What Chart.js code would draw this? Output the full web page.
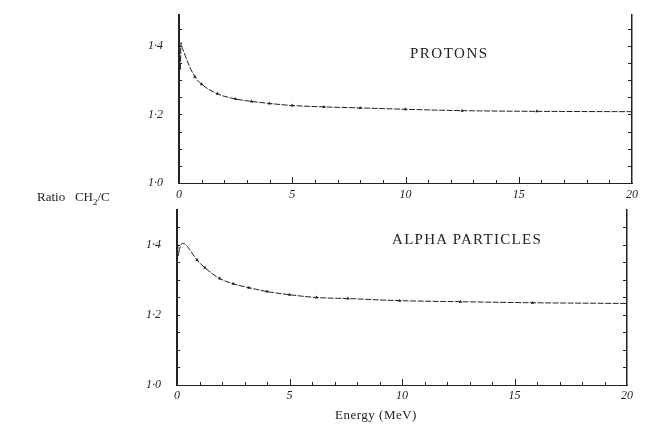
<!DOCTYPE html>
<html>
<head>
<meta charset="utf-8">
<script src="https://cdn.jsdelivr.net/npm/chart.js@4/dist/chart.umd.min.js"></script>
<style>
  body { margin: 0; background: #fff; }
  #wrap { position: relative; width: 648px; height: 440px; font-family: "Liberation Serif", serif; color: #222; }
  canvas { position: absolute; left: 0; }
  .lbl { position: absolute; white-space: nowrap; }
</style>
</head>
<body>
<div id="wrap">
  <canvas id="canva1" width="648" height="215" style="top:0"></canvas>
  <canvas id="canva2" width="648" height="240" style="top:200px"></canvas>
  <div class="lbl" style="left:410px;top:45px;font-size:15px;letter-spacing:1.5px">PROTONS</div>
  <div class="lbl" style="left:392px;top:231px;font-size:15px;letter-spacing:1.3px">ALPHA PARTICLES</div>
  <div class="lbl" style="left:37px;top:189px;font-size:13px">Ratio&nbsp;&nbsp;&nbsp;CH<sub style="font-size:9px">2</sub>/C</div>
  <div class="lbl" style="left:335px;top:407px;font-size:13px;letter-spacing:0.5px">Energy (MeV)</div>
</div>
<script>
// energy in MeV, ratio CH2/C
let protonEnergy = [0, 0.03, 0.06, 0.09, 0.12, 0.2, 0.4, 0.7, 1.0, 1.7, 2.5, 3.2, 4.0, 5.0, 6.4, 8.0, 10, 12.5, 15.8, 20];
let protonRatio  = [1.32, 1.40, 1.33, 1.41, 1.40, 1.385, 1.35, 1.31, 1.288, 1.26, 1.245, 1.238, 1.232, 1.226, 1.222, 1.219, 1.215, 1.211, 1.209, 1.208];

let alphaEnergy = [0, 0.02, 0.06, 0.12, 0.25, 0.4, 0.89, 1.24, 1.9, 2.5, 3.2, 4.0, 5.0, 6.2, 7.6, 9.9, 12.6, 15.8, 20];
let alphaRatio  = [1.33, 1.41, 1.37, 1.39, 1.405, 1.40, 1.357, 1.335, 1.304, 1.289, 1.278, 1.267, 1.258, 1.25, 1.247, 1.241, 1.238, 1.235, 1.233];

let energyTicks = [0, 5, 10, 15, 20];
let ratioTicks = [1.0, 1.2, 1.4];

let ink = "#222";
let tickFont = { family: "Liberation Serif", size: 12, style: "italic" };

// small tick marks pointing into the plot
let inwardTicks = {
    id: "inwardTicks",
    afterDraw(chart) {
        let ctx = chart.ctx, a = chart.chartArea;
        let x = chart.scales.x, y = chart.scales.y;
        ctx.save();
        ctx.strokeStyle = ink;
        ctx.lineWidth = 1;
        ctx.beginPath();
        for (let e = 1; e <= 19; e++) {
            let px = Math.round(x.getPixelForValue(e)) + 0.5;
            let len = e % 5 === 0 ? 6 : 3;
            ctx.moveTo(px, a.bottom);
            ctx.lineTo(px, a.bottom - len);
        }
        for (let r = 1.05; r < y.max; r += 0.05) {
            let py = Math.round(y.getPixelForValue(r)) + 0.5;
            ctx.moveTo(a.left, py);
            ctx.lineTo(a.left + 3, py);
            ctx.moveTo(a.right, py);
            ctx.lineTo(a.right - 4, py);
        }
        ctx.stroke();
        ctx.restore();
    }
};

function makePanel(id, energy, ratio, yMax, pad, xHeight, labelPad) {
    let points = energy.map((e, i) => ({ x: e, y: ratio[i] }));
    return new Chart(document.getElementById(id).getContext("2d"), {
        type: "line",
        data: {
            datasets: [{
                data: points,
                borderColor: ink,
                backgroundColor: ink,
                borderWidth: 1,
                borderDash: [6, 1.5],
                cubicInterpolationMode: "monotone",
                pointStyle: "triangle",
                pointRadius: ctx => (ctx.raw && ctx.raw.x >= 0.6 && ctx.raw.x < 19 ? 2 : 0),
                pointBorderWidth: 0
            }]
        },
        options: {
            responsive: false,
            animation: false,
            layout: { padding: pad },
            plugins: { legend: { display: false }, tooltip: { enabled: false } },
            scales: {
                x: {
                    type: "linear", min: 0, max: 20,
                    afterBuildTicks: s => { s.ticks = energyTicks.map(v => ({ value: v })); },
                    afterFit: s => { s.height = xHeight; s.paddingLeft = 0; s.paddingRight = 0; },
                    grid: { drawOnChartArea: false, drawTicks: false },
                    border: { display: true, color: ink, width: 1, dash: [3, 2] },
                    ticks: { color: ink, font: tickFont, padding: labelPad, maxRotation: 0 }
                },
                y: {
                    type: "linear", min: 1.0, max: yMax,
                    afterBuildTicks: s => { s.ticks = ratioTicks.map(v => ({ value: v })); },
                    afterFit: s => { s.width = pad.leftAxis; s.paddingTop = 0; s.paddingBottom = 0; },
                    grid: { drawOnChartArea: false, drawTicks: false },
                    border: { display: true, color: ink, width: 2 },
                    ticks: {
                        color: ink, font: tickFont, padding: 16,
                        callback: v => v.toFixed(1).replace(".", "·")
                    }
                },
                yR: {
                    type: "linear", position: "right", min: 1.0, max: yMax,
                    afterFit: s => { s.width = 0; s.paddingTop = 0; s.paddingBottom = 0; },
                    grid: { drawOnChartArea: false, drawTicks: false },
                    border: { display: true, color: ink, width: 1.5 },
                    ticks: { display: false }
                }
            }
        },
        plugins: [inwardTicks]
    });
}

window.onload = function () {
    makePanel("canva1", protonEnergy, protonRatio, 1.49,
        { top: 15, right: 16, bottom: 0, left: 0, leftAxis: 179 }, 32, 5);
    makePanel("canva2", alphaEnergy, alphaRatio, 1.5,
        { top: 10, right: 21, bottom: 0, left: 0, leftAxis: 177 }, 55, 4);
};
</script>
</body>
</html>
